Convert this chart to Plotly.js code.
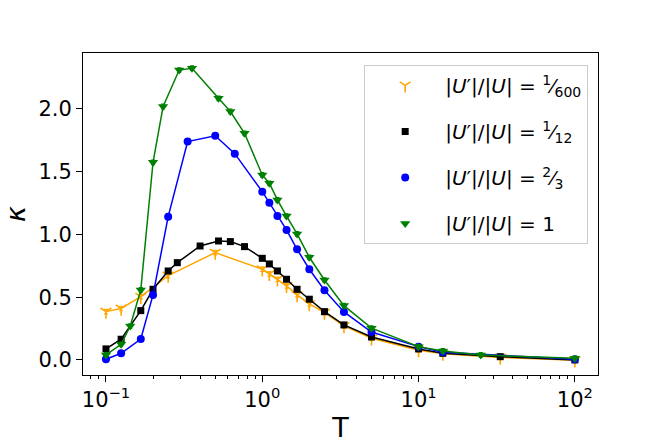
<!DOCTYPE html>
<html>
<head>
<meta charset="utf-8">
<script src="https://cdn.plot.ly/plotly-3.0.1.min.js"></script>
<style>
  body { margin: 0; background: white; }
  #chart { width: 664px; height: 443px; }
</style>
</head>
<body>
<div id="chart"></div>
<script>
// kappa vs T, four perturbation strengths
var tOrange = [0.1, 0.125, 0.167, 0.25, 0.5, 1.0, 1.11, 1.25, 1.43, 1.67, 2, 2.5, 3.33, 5, 10, 14.3, 33.3, 100];
var kOrange = [0.385, 0.41, 0.504, 0.672, 0.855, 0.723, 0.686, 0.643, 0.59, 0.518, 0.446, 0.377, 0.271, 0.173, 0.078, 0.05, 0.02, -0.003];

var tBlack = [0.1, 0.125, 0.167, 0.2, 0.25, 0.286, 0.4, 0.525, 0.625, 0.77, 1.0, 1.11, 1.25, 1.43, 1.67, 2, 2.5, 3.33, 5, 10, 14.3, 33.3, 100];
var kBlack = [0.088, 0.165, 0.393, 0.563, 0.709, 0.775, 0.908, 0.948, 0.943, 0.903, 0.81, 0.765, 0.709, 0.643, 0.563, 0.484, 0.385, 0.279, 0.183, 0.088, 0.053, 0.026, 0.0];

var tBlue = [0.1, 0.125, 0.167, 0.2, 0.25, 0.333, 0.5, 0.667, 1.0, 1.11, 1.25, 1.43, 1.67, 2, 2.5, 3.33, 5, 10, 14.3, 100];
var kBlue = [0.006, 0.053, 0.167, 0.518, 1.142, 1.74, 1.787, 1.644, 1.341, 1.253, 1.147, 1.036, 0.882, 0.723, 0.555, 0.383, 0.222, 0.106, 0.061, 0.006];

var tGreen = [0.1, 0.125, 0.143, 0.167, 0.2, 0.232, 0.294, 0.355, 0.525, 0.625, 0.77, 1.0, 1.11, 1.25, 1.43, 1.67, 2, 2.5, 3.33, 5, 10, 14.3, 25, 100];
var kGreen = [0.04, 0.125, 0.27, 0.558, 1.575, 2.02, 2.31, 2.325, 2.085, 1.98, 1.806, 1.474, 1.408, 1.275, 1.147, 1.004, 0.818, 0.637, 0.433, 0.253, 0.106, 0.072, 0.04, 0.013];

var errSize = 0.018;

var names = [
  "|<i>U</i>′|/|<i>U</i>| = <sup>1</sup>⁄<sub>600</sub>",
  "|<i>U</i>′|/|<i>U</i>| = <sup>1</sup>⁄<sub>12</sub>",
  "|<i>U</i>′|/|<i>U</i>| = <sup>2</sup>⁄<sub>3</sub>",
  "|<i>U</i>′|/|<i>U</i>| = 1"
];
var xTicks = [0.1, 1, 10, 100];
var xTickText = ["10<sup>−1</sup>", "10<sup>0</sup>", "10<sup>1</sup>", "10<sup>2</sup>"];

var series = [
  {t: tOrange, k: kOrange, color: "#FFA500", symbol: "y-down-open", size: 9},
  {t: tBlack, k: kBlack, color: "#000000", symbol: "square", size: 7},
  {t: tBlue, k: kBlue, color: "#0000FF", symbol: "circle", size: 8},
  {t: tGreen, k: kGreen, color: "#008000", symbol: "triangle-down", size: 9}
];

var data = [];
series.forEach(function (s, i) {
  data.push({
    type: "scatter", mode: "lines", x: s.t, y: s.k,
    line: {color: s.color, width: 1.5},
    showlegend: false, hoverinfo: "skip", legendgroup: "g" + i
  });
  data.push({
    type: "scatter", mode: "markers", x: s.t, y: s.k, name: names[i],
    legendgroup: "g" + i,
    marker: {color: s.color, symbol: s.symbol, size: s.size,
             line: {color: s.color, width: s.symbol === "y-down-open" ? 1.6 : 0}},
    error_y: {type: "constant", value: errSize, color: s.color, thickness: 1.2, width: 2}
  });
});

var layout = {
  width: 664, height: 443,
  margin: {l: 83, r: 66, t: 53, b: 68},
  paper_bgcolor: "white", plot_bgcolor: "white",
  font: {family: "DejaVu Sans", size: 20, color: "black"},
  showlegend: true,
  legend: {
    x: 0.546, y: 0.963, xanchor: "left", yanchor: "top",
    bgcolor: "rgba(255,255,255,0.8)", bordercolor: "#cccccc", borderwidth: 1,
    font: {size: 20}, itemwidth: 70, traceorder: "grouped", tracegroupgap: 17
  },
  xaxis: {
    type: "log", range: [-1.147, 2.148],
    tickmode: "array", tickvals: xTicks, ticktext: xTickText,
    ticks: "outside", ticklen: 6, tickwidth: 1, tickcolor: "black",
    showline: true, mirror: true, linecolor: "black", linewidth: 1,
    showgrid: false, zeroline: false,
    tickfont: {size: 21},
    minor: {ticks: "outside", ticklen: 3, tickcolor: "black", dtick: "D1", showgrid: false},
    title: {text: "T", font: {size: 27}, standoff: 8}
  },
  yaxis: {
    range: [-0.12, 2.446], dtick: 0.5, tick0: 0, tickformat: ".1f",
    ticks: "outside", ticklen: 6, tickwidth: 1, tickcolor: "black",
    showline: true, mirror: true, linecolor: "black", linewidth: 1,
    showgrid: false, zeroline: false,
    tickfont: {size: 21},
    title: {text: "<i>κ</i>", font: {size: 27}, standoff: 12}
  }
};

Plotly.newPlot("chart", data, layout, {displayModeBar: false, staticPlot: true});
</script>
</body>
</html>
